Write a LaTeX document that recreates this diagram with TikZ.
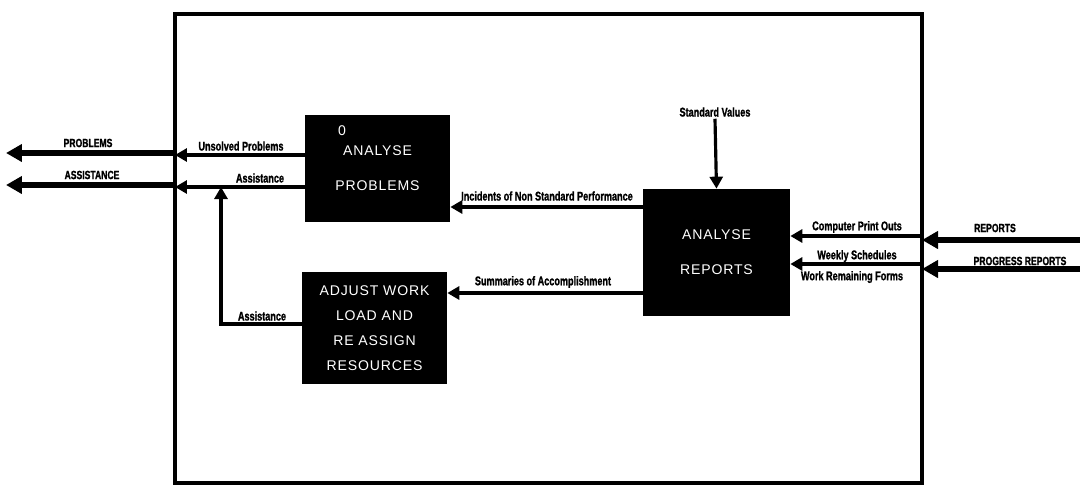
\documentclass[tikz,border=0pt]{standalone}
\usepackage{fontspec}
\usetikzlibrary{arrows.meta,positioning}
\newfontfamily\lblfont[FakeStretch=0.72,BoldFeatures={FakeBold=1.2}]{Liberation Sans}
\newfontfamily\boxfont[LetterSpace=6]{Liberation Sans}

\begin{document}
\begin{tikzpicture}[x=0.02cm,y=-0.02cm,
    procbox/.style={fill=black,text=white,inner sep=0pt,align=center},
    flowlbl/.style={font=\lblfont\bfseries\fontsize{7.2}{8}\selectfont,inner sep=1pt},
    biglbl/.style={font=\lblfont\bfseries\fontsize{6.8}{8}\selectfont,inner sep=1pt},
    flow/.style={line width=1.8pt,-{Triangle[length=0.24cm,width=0.26cm]}},
    bigflow/.style={line width=3.6pt,-{Triangle[length=0.32cm,width=0.34cm]}}]
  \useasboundingbox (0,0) rectangle (1080,487);
  % system boundary
  \draw[line width=2.8pt] (175,14) rectangle (922,483);
  % the three processes
  \node[procbox,minimum width=2.9cm,minimum height=2.14cm,
        font=\boxfont\fontsize{8}{19.8}\selectfont] (probs) at (377.5,168.5)
        {ANALYSE\\PROBLEMS};
  \node[text=white,font=\boxfont\fontsize{8}{9}\selectfont] (zero) at (342,131) {0};
  \node[procbox,minimum width=2.9cm,minimum height=2.24cm,
        font=\boxfont\fontsize{8}{14.2}\selectfont] (adjust) at (374.5,328)
        {ADJUST WORK\\LOAD AND\\RE ASSIGN\\RESOURCES};
  \node[procbox,minimum width=2.94cm,minimum height=2.54cm,
        font=\boxfont\fontsize{8}{19.8}\selectfont] (reports) at (716.5,252.5)
        {ANALYSE\\REPORTS};
  % points on the boundary
  \coordinate (pOut) at (175,155);
  \coordinate (aOut) at (175,187);
  \coordinate (pExt) at (175,153);
  \coordinate (aExt) at (175,185);
  \coordinate (pEnd) at (6,153);
  \coordinate (aEnd) at (6,185);
  \coordinate (cIn) at (922,236);
  \coordinate (wIn) at (922,264);
  \coordinate (rExt) at (922,240);
  \coordinate (gExt) at (922,269);
  \coordinate (rSrc) at (1080,240);
  \coordinate (gSrc) at (1080,269);
  \coordinate (aTurn) at (221,324);
  \coordinate (incY) at (0,207);
  \coordinate (sumY) at (0,293);
  % flows out of the system
  \draw[flow] (probs.west |- pOut) -- (pOut);
  \draw[flow] (probs.west |- aOut) -- (aOut);
  \draw[bigflow] (pExt) -- (pEnd);
  \draw[bigflow] (aExt) -- (aEnd);
  \draw[flow] (adjust.west |- aTurn) -- (aTurn) -- (aTurn |- aOut);
  % flows between processes
  \draw[flow] (reports.west |- incY) -- (probs.east |- incY);
  \draw[flow] (reports.west |- sumY) -- (adjust.east |- sumY);
  % flows into the system
  \node[flowlbl] (stdv) at (715,112) {Standard Values};
  \draw[flow] (stdv.south) -- (reports.north);
  \draw[flow] (cIn) -- (reports.east |- cIn);
  \draw[flow] (wIn) -- (reports.east |- wIn);
  \draw[bigflow] (rSrc) -- (rExt);
  \draw[bigflow] (gSrc) -- (gExt);
  % labels
  \node[biglbl] (lprob) at (88,143) {PROBLEMS};
  \node[biglbl] (lassi) at (92,175) {ASSISTANCE};
  \node[flowlbl] (lunsol) at (241,146) {Unsolved Problems};
  \node[flowlbl] (lasst1) at (260,178) {Assistance};
  \node[flowlbl] (lasst2) at (262,316) {Assistance};
  \node[flowlbl] (linc) at (547,196) {Incidents of Non Standard Performance};
  \node[flowlbl] (lsum) at (543,282) {Summaries of Accomplishment};
  \node[flowlbl] (lcomp) at (857,227) {Computer Print Outs};
  \node[flowlbl] (lweek) at (857,256) {Weekly Schedules};
  \node[flowlbl] (lwork) at (852,277) {Work Remaining Forms};
  \node[biglbl] (lrep) at (995,228) {REPORTS};
  \node[biglbl] (lprog) at (1020,261) {PROGRESS REPORTS};
\end{tikzpicture}
\end{document}
